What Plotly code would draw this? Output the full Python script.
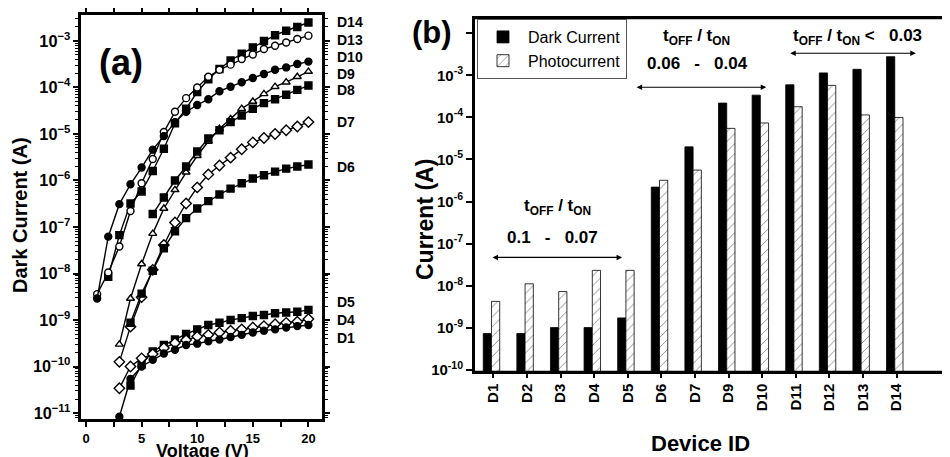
import plotly.graph_objects as go

# ---------------- Panel (a) data : dark current vs voltage ----------------
d14_v = list(range(2, 21))
d14_i = [8.5e-9, 6.7e-8, 3.2e-7, 5.8e-7, 1.6e-6, 4.8e-6, 1.7e-5, 3.5e-5, 8.0e-5, 1.5e-4,
         2.5e-4, 3.8e-4, 5.3e-4, 7.3e-4, 1.0e-3, 1.33e-3, 1.66e-3, 2.0e-3, 2.5e-3]
d13_v = list(range(1, 21))
d13_i = [3.6e-9, 1.05e-8, 3.8e-8, 2.2e-7, 8.7e-7, 2.9e-6, 1.1e-5, 3.0e-5, 5.9e-5, 1.0e-4,
         1.7e-4, 2.4e-4, 3.1e-4, 4.1e-4, 5.1e-4, 6.7e-4, 7.9e-4, 9.3e-4, 1.1e-3, 1.3e-3]
d10_v = list(range(1, 21))
d10_i = [2.9e-9, 6.2e-8, 3.1e-7, 8.3e-7, 1.9e-6, 4.6e-6, 9.0e-6, 1.8e-5, 3.0e-5, 4.2e-5,
         5.6e-5, 8.3e-5, 1.04e-4, 1.3e-4, 1.6e-4, 1.95e-4, 2.4e-4, 2.7e-4, 3.2e-4, 3.6e-4]
d9_v = list(range(3, 21))
d9_i = [3.0e-10, 2.9e-9, 1.6e-8, 7.2e-8, 2.5e-7, 6.3e-7, 1.5e-6, 3.4e-6, 6.9e-6, 1.3e-5,
        2.1e-5, 3.5e-5, 5.0e-5, 7.3e-5, 1.04e-4, 1.3e-4, 1.7e-4, 2.2e-4]
d8_v = list(range(6, 21))
d8_i = [1.9e-7, 4.3e-7, 1.0e-6, 2.0e-6, 4.2e-6, 8.0e-6, 1.2e-5, 1.8e-5, 2.5e-5, 3.5e-5,
        4.6e-5, 5.6e-5, 7.0e-5, 8.9e-5, 1.1e-4]
d7_v = list(range(3, 21))
d7_i = [1.26e-10, 7.2e-10, 3.1e-9, 1.2e-8, 4.1e-8, 1.25e-7, 3.2e-7, 7.1e-7, 1.35e-6, 2.1e-6,
        3.1e-6, 4.7e-6, 6.6e-6, 8.2e-6, 1.0e-5, 1.2e-5, 1.45e-5, 1.8e-5]
d6_v = list(range(4, 21))
d6_i = [8.7e-10, 3.7e-9, 1.15e-8, 3.5e-8, 8.1e-8, 1.55e-7, 2.5e-7, 3.6e-7, 5.0e-7, 6.7e-7,
        8.7e-7, 1.1e-6, 1.3e-6, 1.55e-6, 1.8e-6, 2.0e-6, 2.2e-6]
d5_v = list(range(4, 21))
d5_i = [3.9e-11, 1.1e-10, 2.1e-10, 2.9e-10, 3.8e-10, 5.0e-10, 6.3e-10, 7.8e-10, 8.7e-10, 1.0e-9,
        1.1e-9, 1.22e-9, 1.28e-9, 1.4e-9, 1.45e-9, 1.5e-9, 1.65e-9]
d4_v = list(range(3, 21))
d4_i = [3.4e-11, 1.0e-10, 1.5e-10, 1.85e-10, 2.5e-10, 3.2e-10, 3.7e-10, 4.4e-10, 4.8e-10, 5.4e-10,
        5.9e-10, 6.3e-10, 6.9e-10, 7.4e-10, 8.1e-10, 8.7e-10, 9.2e-10, 1.05e-9]
d1_v = list(range(3, 21))
d1_i = [8.3e-12, 5.4e-11, 1.0e-10, 1.4e-10, 1.9e-10, 2.3e-10, 2.9e-10, 3.1e-10, 3.5e-10, 3.8e-10,
        4.3e-10, 4.8e-10, 5.4e-10, 5.9e-10, 6.3e-10, 6.9e-10, 7.4e-10, 7.8e-10]

curve_names = ["D14", "D13", "D10", "D9", "D8", "D7", "D6", "D5", "D4", "D1"]
curve_v = [d14_v, d13_v, d10_v, d9_v, d8_v, d7_v, d6_v, d5_v, d4_v, d1_v]
curve_i = [d14_i, d13_i, d10_i, d9_i, d8_i, d7_i, d6_i, d5_i, d4_i, d1_i]
curve_sym = ["square", "circle", "circle", "triangle-up", "square", "diamond",
             "square", "square", "diamond", "circle"]
curve_open = [False, True, False, True, False, True, False, False, True, False]
label_y_px = [22, 40, 57, 74, 90, 122, 167, 302, 320, 338]

# ---------------- Panel (b) data : dark vs photo current per device -------
devices = ["D1", "D2", "D3", "D4", "D5", "D6", "D7", "D9", "D10", "D11", "D12", "D13", "D14"]
dark_current = [7.2e-10, 7.2e-10, 1.0e-9, 1.0e-9, 1.7e-9, 2.2e-6, 2.0e-5, 2.2e-4, 3.4e-4,
                6.0e-4, 1.15e-3, 1.4e-3, 2.8e-3]
photo_current = [4.2e-9, 1.1e-8, 7.2e-9, 2.3e-8, 2.3e-8, 3.2e-6, 5.6e-6, 5.5e-5, 7.4e-5,
                 1.8e-4, 5.8e-4, 1.15e-4, 1.0e-4]

# ---------------- figure ---------------------------------------------------
W, H = 950, 457
OFF = 8  # page body margin offset
FONT = "Liberation Sans, Arial, sans-serif"
fig = go.Figure()

def px_x(p):
    return (p - OFF) / W

def px_y(p):
    return 1 - (p - OFF) / H

for name, v, i, sym, op in zip(curve_names, curve_v, curve_i, curve_sym, curve_open):
    fig.add_trace(go.Scatter(
        x=v, y=i, mode="lines+markers", name=name, showlegend=False,
        xaxis="x", yaxis="y",
        line=dict(color="black", width=1.4),
        marker=dict(symbol=sym, size=7 if sym != "diamond" else 8,
                    color="white" if op else "black",
                    line=dict(color="black", width=1.4)),
    ))

cat_pos = list(range(len(devices)))
fig.add_trace(go.Bar(
    x=cat_pos, y=dark_current, name="Dark Current", xaxis="x2", yaxis="y2",
    width=0.245, offset=-0.30,
    marker=dict(color="black", line=dict(color="black", width=0.8)),
))
fig.add_trace(go.Bar(
    x=cat_pos, y=photo_current, name="Photocurrent", xaxis="x2", yaxis="y2",
    width=0.245, offset=-0.055,
    marker=dict(color="white", line=dict(color="black", width=0.8),
                pattern=dict(shape="/", fgcolor="black", bgcolor="white",
                             size=7, solidity=0.12)),
))

def decades(lo, hi):
    return [10.0 ** e for e in range(lo, hi + 1)]

def sup_labels(lo, hi, skip=()):
    return ["" if e in skip else f"<b>10<sup>{e}</sup></b>" for e in range(lo, hi + 1)]

ya_range = [-11.15, -2.42]
xa_range = [-0.54, 21.31]
yb_range = [-10.05, -1.64]
xb_range = [-0.575, 13.41]

A_L, A_R, A_T, A_B = 80, 323, 14, 420
B_L, B_R, B_T, B_B = 474, 944, 18.3, 371.7

tickf_a = dict(family=FONT, size=13, color="black", weight="bold")
tickf_b = dict(family=FONT, size=15, color="black")

fig.update_layout(
    width=W, height=H, margin=dict(l=0, r=0, t=0, b=0),
    paper_bgcolor="white", plot_bgcolor="rgba(0,0,0,0)",
    barmode="overlay",
    font=dict(family=FONT, color="black"),
    xaxis=dict(domain=[px_x(A_L), px_x(A_R)], range=xa_range, anchor="y",
               tickmode="linear", tick0=0, dtick=5,
               ticks="outside", ticklen=5, tickwidth=1.5, tickcolor="black",
               minor=dict(dtick=2.5, ticks="outside", ticklen=5, tickwidth=1.5,
                          tickcolor="black"),
               showline=True, linecolor="black", linewidth=2, mirror="ticks",
               showgrid=False, zeroline=False, automargin=False, tickfont=tickf_a),
    yaxis=dict(domain=[px_y(A_B), px_y(A_T)], type="log", range=ya_range, anchor="x",
               tickmode="linear", tick0=0, dtick=1, exponentformat="power",
               ticks="outside", ticklen=5, tickwidth=1.5, tickcolor="black",
               minor=dict(ticks="outside", ticklen=3, tickwidth=1, tickcolor="black"),
               showline=True, linecolor="black", linewidth=2, mirror="ticks",
               showgrid=False, zeroline=False, automargin=False, tickfont=tickf_a),
    xaxis2=dict(domain=[px_x(B_L), px_x(B_R)], range=xb_range, anchor="y2",
                tickmode="array", tickvals=cat_pos,
                ticktext=[f"<b>{d}</b>" for d in devices], tickangle=-90,
                ticks="outside", ticklen=4, tickwidth=1.5, tickcolor="black",
                showline=True, linecolor="black", linewidth=2, mirror=True,
                showgrid=False, zeroline=False, automargin=False, tickfont=tickf_b),
    yaxis2=dict(domain=[px_y(B_B), px_y(B_T)], type="log", range=yb_range, anchor="x2",
                tickmode="array", tickvals=decades(-10, -2),
                ticktext=sup_labels(-10, -2, skip=(-2,)),
                ticks="outside", ticklen=6, tickwidth=1.5, tickcolor="black",
                showline=True, linecolor="black", linewidth=2, mirror="ticks",
                showgrid=False, zeroline=False, automargin=False, tickfont=tickf_b),
    legend=dict(x=px_x(477), y=px_y(19), xanchor="left", yanchor="top",
                bgcolor="white", bordercolor="#555", borderwidth=1,
                font=dict(family=FONT, size=16, color="black"),
                tracegroupgap=0, itemwidth=40),
)

# panel frames drawn as paper-referenced rectangles
shapes = [
    dict(type="rect", xref="paper", yref="paper",
         x0=px_x(A_L), x1=px_x(A_R), y0=px_y(A_B), y1=px_y(A_T),
         line=dict(color="black", width=2), fillcolor="rgba(0,0,0,0)", layer="above"),
    dict(type="rect", xref="paper", yref="paper",
         x0=px_x(B_L), x1=px_x(B_R), y0=px_y(B_B), y1=px_y(B_T),
         line=dict(color="black", width=2), fillcolor="rgba(0,0,0,0)", layer="above"),
]

ann = []
def pann(text, x, y, size, angle=0, xanchor="center"):
    ann.append(dict(text=text, x=px_x(x), y=px_y(y), xref="paper", yref="paper",
                    xanchor=xanchor, yanchor="middle", textangle=angle, showarrow=False,
                    font=dict(family=FONT, size=size, color="black")))

pann("<b>Dark Current (A)</b>", 20, 215, 20, angle=-90)
pann("<b>Voltage (V)</b>", 202, 451, 18)
pann("<b>Current (A)</b>", 425, 220, 23, angle=-90)
pann("<b>Device ID</b>", 700, 443, 22)
pann("<b>(a)</b>", 121, 63, 36)
pann("<b>(b)</b>", 432, 33, 31)
for name, yp in zip(curve_names, label_y_px):
    pann(f"<b>{name}</b>", 335, yp, 14, xanchor="left")

ratio = "<b>t<sub>OFF</sub> / t<sub>ON</sub></b>"
tf = dict(family=FONT, size=17, color="black")
def dann(text, x, y):
    ann.append(dict(text=text, x=x, y=y, xref="x2", yref="y2", xanchor="center",
                    yanchor="middle", showarrow=False, font=tf))
dann(ratio, 1.9, -6.13)
dann("<b>0.1   -   0.07</b>", 1.75, -6.85)
dann(ratio, 6.06, -2.09)
dann("<b>0.06   -   0.04</b>", 6.09, -2.71)
dann("<b>t<sub>OFF</sub> / t<sub>ON</sub> <   0.03</b>", 10.85, -2.09)
for x0, x1, yy in [(-0.07, 3.83, -7.33), (4.22, 8.12, -3.28), (8.79, 12.57, -2.47)]:
    ann.append(dict(text="", x=x1, y=yy, ax=x0, ay=yy, xref="x2", yref="y2",
                    axref="x2", ayref="y2", showarrow=True, arrowhead=2, startarrowhead=2,
                    arrowside="end+start", arrowsize=1, startarrowsize=1,
                    arrowwidth=1.1, arrowcolor="black"))

fig.update_layout(annotations=ann, shapes=shapes)
fig.write_html("out.html")
